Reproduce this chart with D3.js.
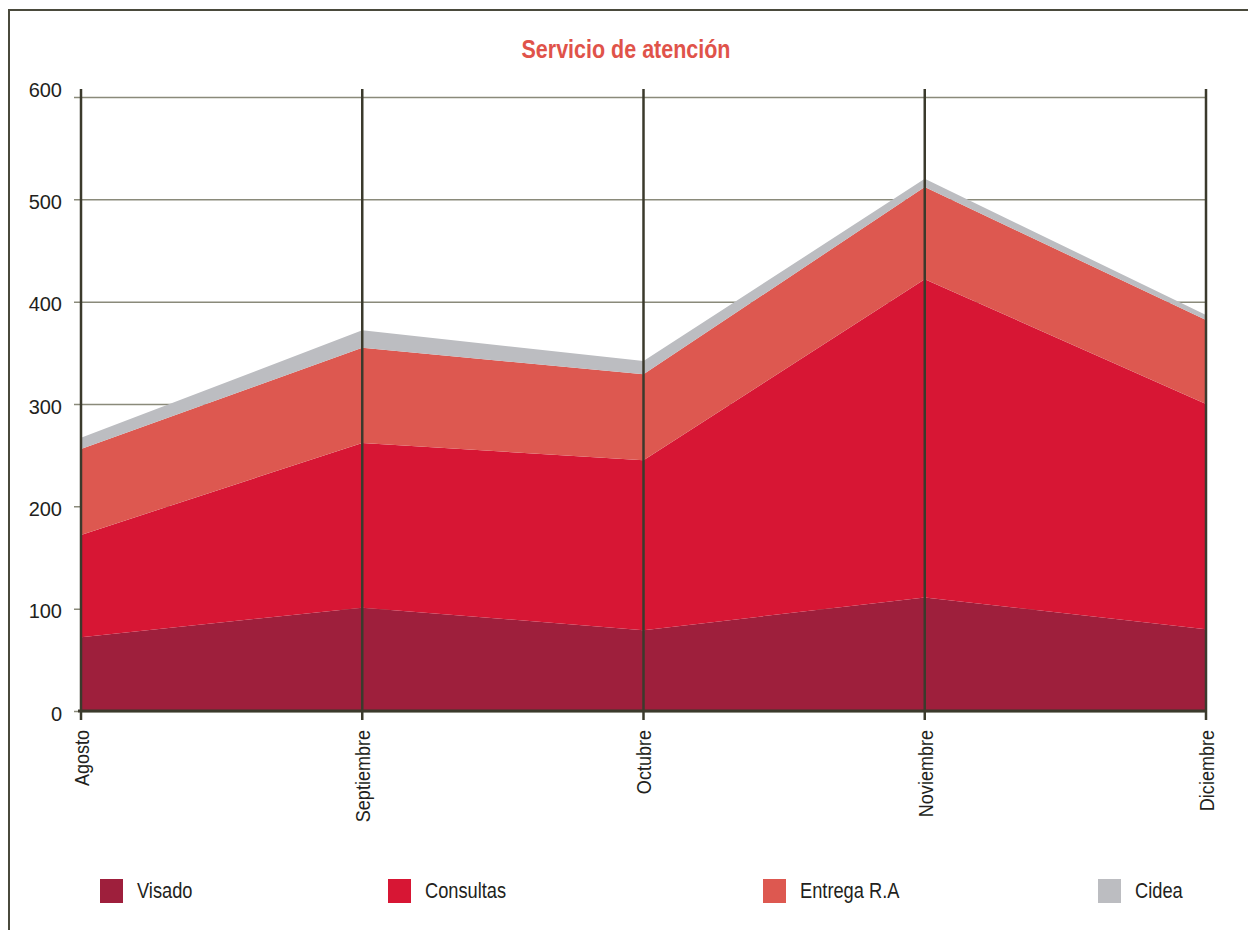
<!DOCTYPE html>
<html>
<head>
<meta charset="utf-8">
<script src="https://cdn.jsdelivr.net/npm/d3@7"></script>
<style>
  body { margin: 0; background: #fff; }
  svg { display: block; }
  text { font-family: "Liberation Sans", sans-serif; fill: #231f20; }
</style>
</head>
<body>
<svg id="chart" width="1248" height="930"></svg>
<script>
const months = ["Agosto", "Septiembre", "Octubre", "Noviembre", "Diciembre"];
const seriesNames = ["Visado", "Consultas", "Entrega R.A", "Cidea"];
const visado = [72, 101, 79, 111, 80];
const consultas = [100, 161, 166, 311, 220];
const entrega = [84, 93, 84, 90, 82];
const cidea = [11, 17, 13, 8, 5];
const yTicks = [0, 100, 200, 300, 400, 500, 600];
const colors = ["#9e1f3c", "#d71634", "#dd5850", "#bcbdc1"];

const svg = d3.select("#chart");

const x = d3.scalePoint().domain(months).range([81, 1206]);
const y = d3.scaleLinear().domain([0, 600]).range([711, 97]);

// frame, only left and top show
svg.append("path")
  .attr("d", "M9,930 L9,10 L1248,10")
  .attr("fill", "none")
  .attr("stroke", "#4a4a3c")
  .attr("stroke-width", 2);

// title (condensed look)
svg.append("text")
  .attr("transform", "translate(626,58) scale(0.86,1)")
  .attr("text-anchor", "middle")
  .style("font-size", "25px")
  .style("font-weight", "bold")
  .style("fill", "#e0534a")
  .text("Servicio de atención");

// horizontal grid behind the areas
const yAxis = svg.append("g")
  .attr("transform", "translate(81,0)")
  .call(d3.axisLeft(y).tickValues(yTicks).tickSize(-1125).tickSizeOuter(0).tickPadding(0));
yAxis.select(".domain").remove();
yAxis.selectAll(".tick line")
  .attr("x1", -7)
  .attr("stroke", "#8a8a7a")
  .attr("stroke-width", 1.5);
yAxis.selectAll(".tick text")
  .attr("x", -19)
  .attr("dy", d => d === 600 ? "-0.05em" : "0.45em")
  .style("font-size", "20px")
  .style("fill", "#231f20");

// stacked areas
const rows = months.map((m, i) => ({
  month: m,
  "Visado": visado[i],
  "Consultas": consultas[i],
  "Entrega R.A": entrega[i],
  "Cidea": cidea[i]
}));
const stacked = d3.stack().keys(seriesNames)(rows);
const area = d3.area()
  .x(d => x(d.data.month))
  .y0(d => y(d[0]))
  .y1(d => y(d[1]));

svg.append("g")
  .selectAll("path")
  .data(stacked)
  .join("path")
  .attr("fill", (d, i) => colors[i])
  .attr("d", area);

// vertical lines at each month
svg.append("g")
  .selectAll("line")
  .data(months)
  .join("line")
  .attr("x1", d => x(d)).attr("x2", d => x(d))
  .attr("y1", 89).attr("y2", 720)
  .attr("stroke", "#3b3a2c")
  .attr("stroke-width", 2.5);

// x axis
const xAxis = svg.append("g")
  .attr("transform", "translate(0,711)")
  .call(d3.axisBottom(x).tickSize(0).tickPadding(0));
xAxis.select(".domain").remove();
svg.append("line")
  .attr("x1", 78).attr("x2", 1207)
  .attr("y1", 711).attr("y2", 711)
  .attr("stroke", "#3b3a2c")
  .attr("stroke-width", 3);
xAxis.selectAll(".tick text")
  .attr("transform", "rotate(-90) scale(0.86,1)")
  .attr("x", -22).attr("y", 0)
  .attr("dy", "0.35em")
  .attr("text-anchor", "end")
  .style("font-size", "21px")
  .style("fill", "#231f20");

// legend
const legendX = [100, 388, 763, 1098];
const legend = svg.append("g")
  .selectAll("g")
  .data(seriesNames)
  .join("g")
  .attr("transform", (d, i) => `translate(${legendX[i]},879)`);
legend.append("rect")
  .attr("width", 23).attr("height", 24)
  .attr("fill", (d, i) => colors[i]);
legend.append("text")
  .attr("transform", "translate(37,19) scale(0.83,1)")
  .style("font-size", "22px")
  .text(d => d);
</script>
</body>
</html>
